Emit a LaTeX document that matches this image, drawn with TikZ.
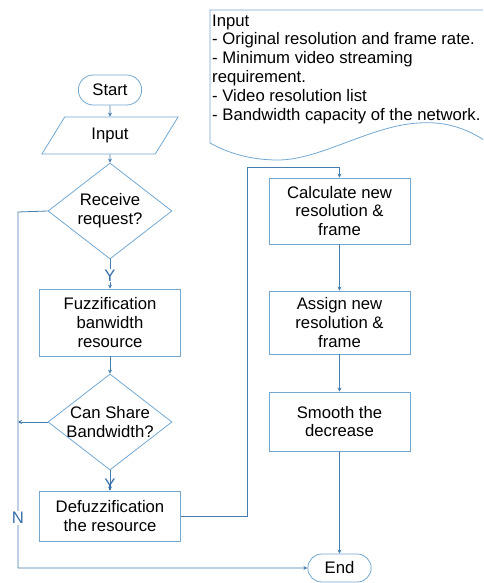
\documentclass[tikz,border=0pt]{standalone}
\usepackage{fontspec}
\setmainfont{Liberation Sans}
\usetikzlibrary{shapes.geometric,shapes.misc,arrows.meta}
\definecolor{flowline}{RGB}{70,125,175}
\definecolor{boxline}{RGB}{115,168,210}
\definecolor{labelblue}{RGB}{55,110,170}

\begin{document}
\begin{tikzpicture}[x=1pt,y=-1pt,
    font=\fontsize{16.7}{18.8}\selectfont,
    process/.style={rectangle, draw=boxline, line width=0.8pt, minimum width=141pt, align=center, inner sep=2pt},
    decision/.style={diamond, draw=boxline, line width=0.8pt, minimum width=124pt, minimum height=96pt, inner sep=0pt},
    terminal/.style={rounded rectangle, draw=boxline, line width=0.8pt, minimum width=70pt},
    io/.style={trapezium, trapezium left angle=63, trapezium right angle=117, draw=boxline, line width=0.8pt,
        minimum width=137pt, minimum height=37pt, trapezium stretches},
    flow/.style={draw=flowline, line width=0.8pt, -{Stealth[length=4pt,width=4pt]}},
    yn/.style={text=labelblue, inner sep=1pt}]
    \useasboundingbox (0,0) rectangle (483,583);

    % Input list
    \begin{scope}
        \clip (0,0) rectangle (483,583);
        \draw[boxline, line width=0.8pt] (210,143) -- (210,10) -- (495,10) -- (495,148)
            .. controls (470,128) and (445,121) .. (418,123)
            .. controls (370,126) and (320,160) .. (278,160)
            .. controls (250,160) and (228,153) .. (210,143);
    \end{scope}
    \node[anchor=north west, align=left, inner sep=0pt] (inlist) at (212,14.5)
        {Input\\- Original resolution and frame rate.\\- Minimum video streaming\\requirement.\\- Video resolution list\\- Bandwidth capacity of the network.};

    % Left column
    \node[terminal, minimum height=30pt] (start) at (110,90) {Start};
    \node[io] (input) at (110,135.5) {Input};
    \node[decision, label={[align=center]center:Receive\\request?}] (recv) at (110,211) {};
    \node[process, minimum height=67pt] (fuzz) at (110,322.5) {Fuzzification\\banwidth\\resource};
    \node[decision, label={[align=center]center:Can Share\\Bandwidth?}] (share) at (110,422) {};
    \node[process, minimum height=50pt] (defuzz) at (110,516) {Defuzzification\\the resource};

    % Right column
    \node[process, minimum height=66pt] (calc) at (339.5,211) {Calculate new\\resolution \&\\frame};
    \node[process, minimum height=63pt] (assign) at (339.5,322.5) {Assign new\\resolution \&\\frame};
    \node[process, minimum height=59pt] (smooth) at (339.5,421.5) {Smooth the\\decrease};
    \node[terminal, minimum height=28pt] (end) at (339.5,568) {End};

    \coordinate (loopup) at (247,167);
    \coordinate (nrail) at (18,212);

    % Connectors
    \draw[flow] (start) -- (input);
    \draw[flow] (input) -- (recv);
    \draw[flow] (recv) -- node[yn, fill=white, pos=0.55] {Y} (fuzz);
    \draw[flow] (fuzz) -- (share);
    \draw[flow] (share) -- node[yn, pos=0.72] {Y} (defuzz);
    \draw[flow] (defuzz.east) -| (loopup) -| (calc.north);
    \draw[flow] (calc) -- (assign);
    \draw[flow] (assign) -- (smooth);
    \draw[flow] (smooth) -- (end);
    \draw[flow] (recv.west) -- (nrail) |- node[yn, fill=white, pos=0.43] {N} (end.west);
    \draw[flow] (share.west) -- (share.west -| nrail);
\end{tikzpicture}
\end{document}
